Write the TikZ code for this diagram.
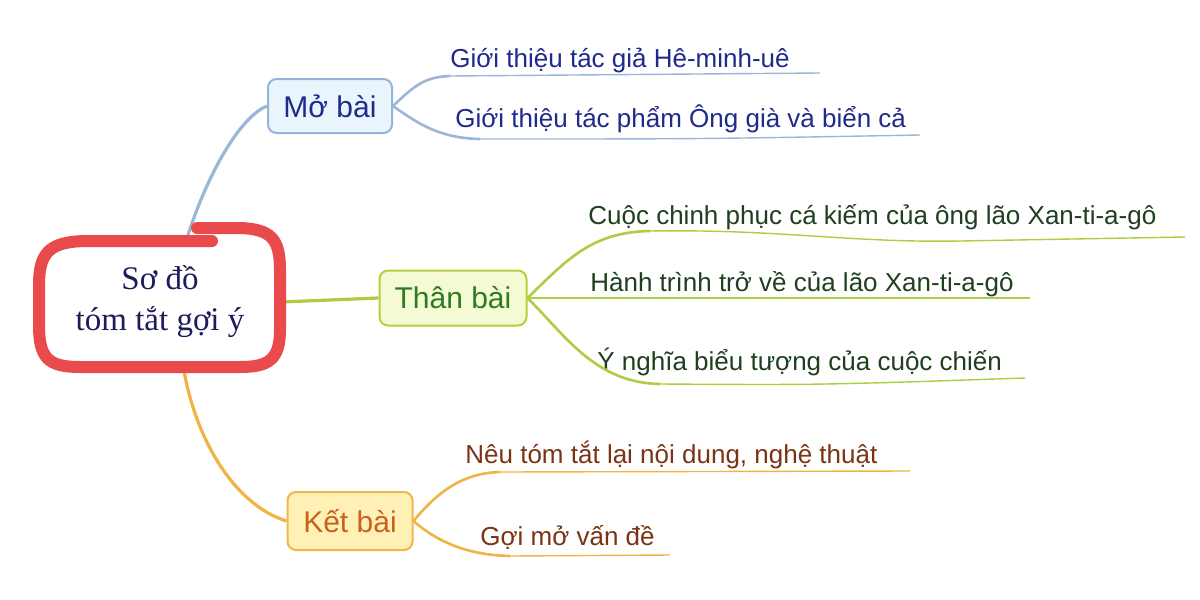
\documentclass[tikz,border=0pt]{standalone}
\usepackage{fontspec}
\setmainfont{Liberation Sans}
\newfontfamily\titlefont{Liberation Serif}

\definecolor{loopred}{HTML}{E94A4C}
\definecolor{titleblue}{HTML}{1D1D5C}
\definecolor{moline}{HTML}{94B4D8}
\definecolor{mofill}{HTML}{EAF4FC}
\definecolor{motext}{HTML}{1F2B8A}
\definecolor{moedge}{HTML}{9AB7DA}
\definecolor{thanline}{HTML}{B3D13A}
\definecolor{thanfill}{HTML}{F4FAD4}
\definecolor{thantext}{HTML}{2E7B22}
\definecolor{thanedge}{HTML}{AECD42}
\definecolor{thanleaf}{HTML}{1F3F1F}
\definecolor{ketline}{HTML}{F2B64C}
\definecolor{ketfill}{HTML}{FFF1B5}
\definecolor{kettext}{HTML}{C9611F}
\definecolor{ketedge}{HTML}{F0B445}
\definecolor{ketleaf}{HTML}{7A3414}

\begin{document}
\begin{tikzpicture}[x=0.5pt, y=-0.5pt,
	mainbox/.style={draw, rounded corners=0.15cm, line width=1pt, minimum height=27pt, font=\fontsize{15}{18}\selectfont},
	leaf/.style={anchor=base west, inner sep=0pt, font=\fontsize{13}{15}\selectfont},
	root/.style={line width=1.6pt},
	twig/.style={line width=1.3pt},
	tail/.style={line width=0.7pt}]
					\path[use as bounding box, fill=white] (0,0) rectangle (1200,600);
					
					\node (0) at (160,302) [minimum width=120.5pt, minimum height=63pt, align=center, text=titleblue, font=\titlefont\fontsize{16.5}{20.5}\selectfont] {Sơ đồ\\tóm tắt gợi ý};
					\node (1) at (330,106) [mainbox, minimum width=62pt, fill=mofill, draw=moline, text=motext] {Mở bài};
					\node (2) at (453,298) [mainbox, minimum width=73.5pt, minimum height=27.5pt, fill=thanfill, draw=thanline, text=thantext] {Thân bài};
					\node (3) at (350,521) [mainbox, minimum width=62.5pt, minimum height=29pt, fill=ketfill, draw=ketline, text=kettext] {Kết bài};
					
					\node (11) at (450,67) [leaf, text=motext] {Giới thiệu tác giả Hê-minh-uê};
					\node (12) at (455,127) [leaf, text=motext] {Giới thiệu tác phẩm Ông già và biển cả};
					\node (21) at (588,224) [leaf, text=thanleaf] {Cuộc chinh phục cá kiếm của ông lão Xan-ti-a-gô};
					\node (22) at (590,291) [leaf, text=thanleaf] {Hành trình trở về của lão Xan-ti-a-gô};
					\node (23) at (597,370) [leaf, text=thanleaf] {Ý nghĩa biểu tượng của cuộc chiến};
					\node (31) at (465,463) [leaf, text=ketleaf] {Nêu tóm tắt lại nội dung, nghệ thuật};
					\node (32) at (480,545) [leaf, text=ketleaf] {Gợi mở vấn đề};
					
					\coordinate (11a) at (450,76);  \coordinate (11b) at (820,73);
					\coordinate (12a) at (480,139); \coordinate (12b) at (920,135);
					\coordinate (21a) at (650,231); \coordinate (21b) at (1185,237);
					\coordinate (22b) at (1030,298);
					\coordinate (23a) at (660,384); \coordinate (23b) at (1025,378);
					\coordinate (31a) at (500,472); \coordinate (31b) at (910,471);
					\coordinate (32a) at (510,556); \coordinate (32b) at (670,555);
					
					\draw[root, moedge] (0.67) .. controls (205,180) and (238,118) .. (1.west);
					\draw[root, thanedge] (0.east) -- (2.west);
					\draw[root, ketedge] (0.-70) .. controls (195,440) and (235,505) .. (3.west);
					
					\draw[twig, moedge] (1.east) .. controls (415,85) and (425,77) .. (11a);
					\draw[tail, moedge] (11a) -- (11b);
					\draw[twig, moedge] (1.east) .. controls (420,125) and (440,138) .. (12a);
					\draw[tail, moedge] (12a) .. controls (700,139) .. (12b);
					\draw[twig, thanedge] (2.east) .. controls (565,262) and (590,232) .. (21a);
					\draw[tail, thanedge] (21a) .. controls (780,229) and (850,243) .. (960,241) -- (21b);
					\draw[twig, thanedge] (2.east) -- (22b);
					\draw[twig, thanedge] (2.east) .. controls (565,335) and (595,383) .. (23a);
					\draw[tail, thanedge] (23a) .. controls (820,385) .. (23b);
					\draw[twig, ketedge] (3.east) .. controls (435,495) and (460,473) .. (31a);
					\draw[tail, ketedge] (31a) -- (31b);
					\draw[twig, ketedge] (3.east) .. controls (435,540) and (465,555) .. (32a);
					\draw[tail, ketedge] (32a) -- (32b);
					
					% hand drawn ring round the title
					\draw[loopred, line width=6pt, line cap=round] (197,228) -- (240,228) .. controls (272,229) and (280,240) .. (280,270) -- (280,330) .. controls (280,360) and (268,367) .. (240,367) -- (80,367) .. controls (48,367) and (39,358) .. (39,325) -- (39,285) .. controls (39,252) and (50,242) .. (85,241) -- (212,241);
				\end{tikzpicture}
\end{document}
